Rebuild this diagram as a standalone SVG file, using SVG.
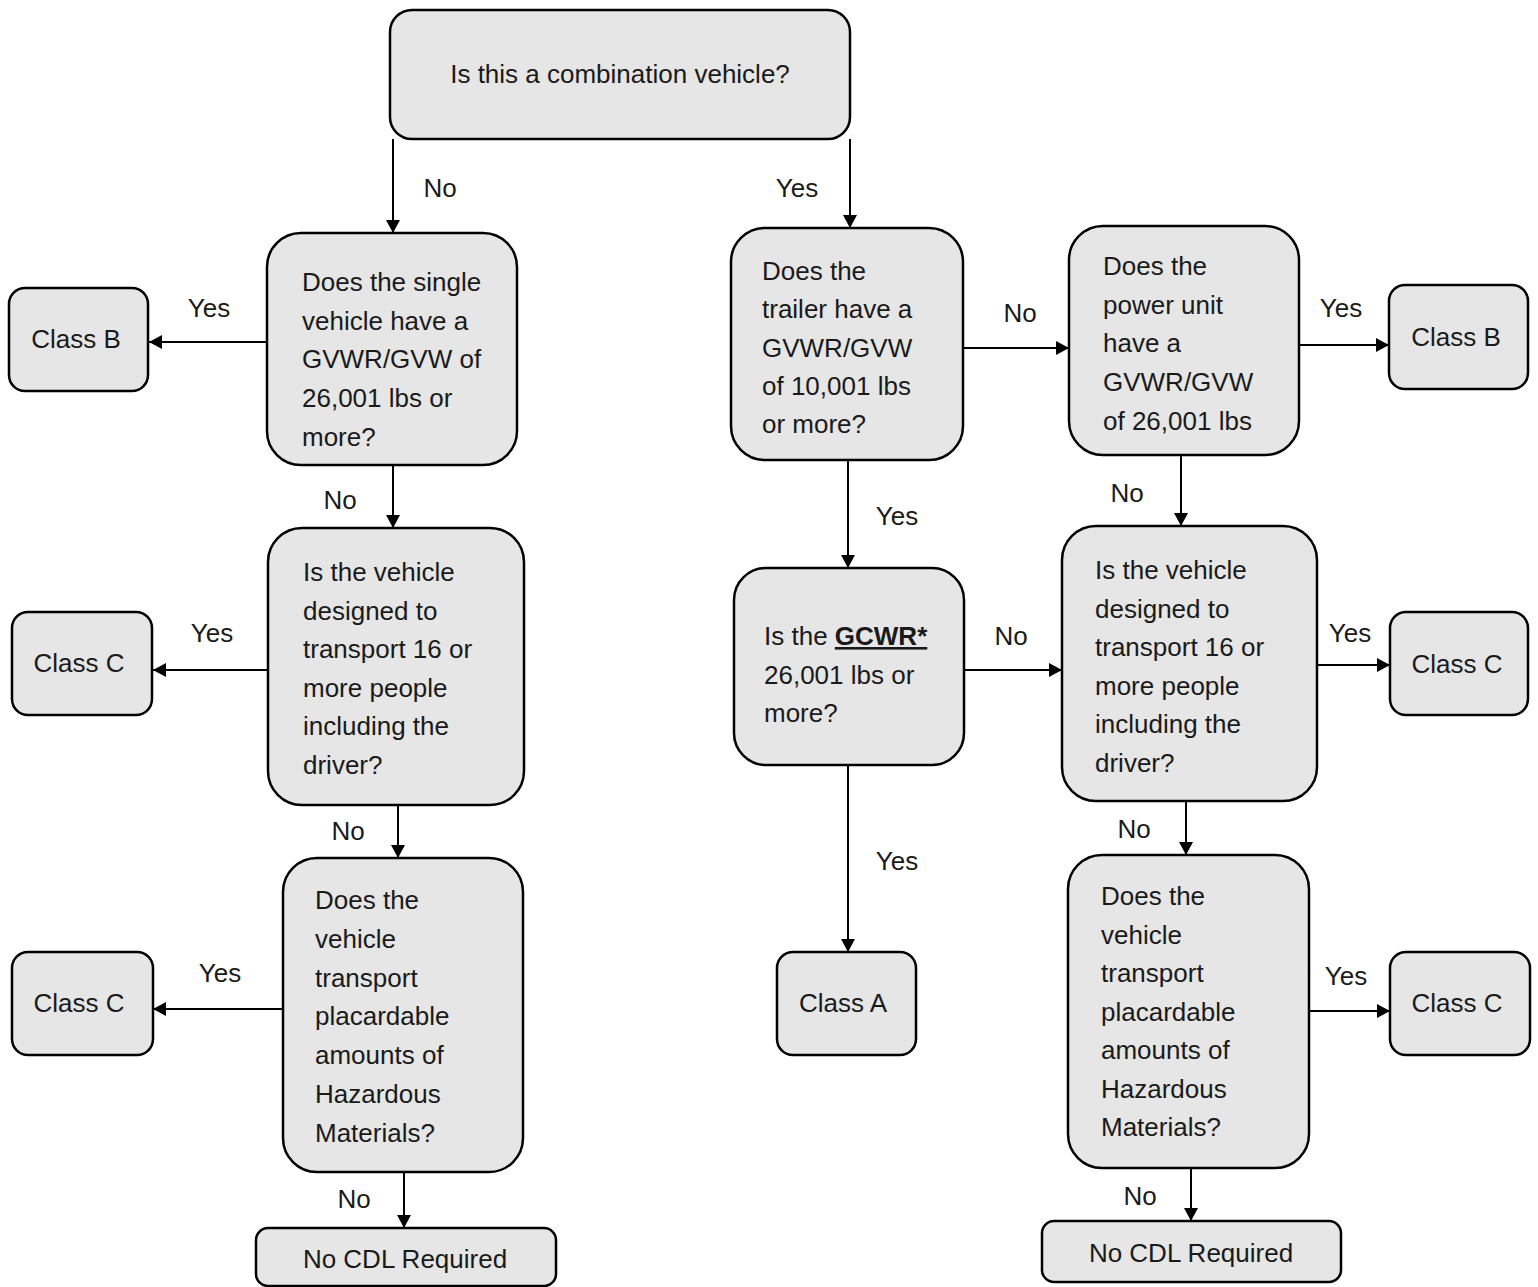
<svg xmlns="http://www.w3.org/2000/svg" width="1538" height="1287" viewBox="0 0 1538 1287">
<style>
.box{fill:#e6e6e6;stroke:#000;stroke-width:2.5}
text{font-family:"Liberation Sans",Arial,sans-serif;font-size:26px;fill:#1a1a1a}
.c{text-anchor:middle}
.conn{fill:none;stroke:#000;stroke-width:2;marker-end:url(#arr)}
.b{font-weight:bold;text-decoration:underline}
</style>
<defs>
<marker id="arr" markerUnits="userSpaceOnUse" markerWidth="14" markerHeight="14" refX="13" refY="7" orient="auto">
<path d="M0,0 L13,7 L0,14 z" fill="#000"/>
</marker>
</defs>
<rect width="1538" height="1287" fill="#fff"/>
<g id="connectors">
<path class="conn" d="M393,139 V233"/>
<path class="conn" d="M850,139 V228"/>
<path class="conn" d="M267,342 H149"/>
<path class="conn" d="M393,465 V528"/>
<path class="conn" d="M268,670 H153"/>
<path class="conn" d="M398,805 V858"/>
<path class="conn" d="M283,1009 H153"/>
<path class="conn" d="M404,1172 V1228"/>
<path class="conn" d="M963,348 H1069"/>
<path class="conn" d="M848,460 V568"/>
<path class="conn" d="M964,670 H1062"/>
<path class="conn" d="M848,765 V952"/>
<path class="conn" d="M1300,345 H1389"/>
<path class="conn" d="M1181,455 V526"/>
<path class="conn" d="M1317,665 H1390"/>
<path class="conn" d="M1186,801 V855"/>
<path class="conn" d="M1309,1011 H1390"/>
<path class="conn" d="M1191,1168 V1221"/>
<text class="c" x="440" y="197">No</text>
<text class="c" x="797" y="197">Yes</text>
<text class="c" x="209" y="317">Yes</text>
<text class="c" x="340" y="509">No</text>
<text class="c" x="212" y="642">Yes</text>
<text class="c" x="348" y="840">No</text>
<text class="c" x="220" y="982">Yes</text>
<text class="c" x="354" y="1208">No</text>
<text class="c" x="1020" y="322">No</text>
<text class="c" x="897" y="525">Yes</text>
<text class="c" x="1011" y="645">No</text>
<text class="c" x="897" y="870">Yes</text>
<text class="c" x="1341" y="317">Yes</text>
<text class="c" x="1127" y="502">No</text>
<text class="c" x="1350" y="642">Yes</text>
<text class="c" x="1134" y="838">No</text>
<text class="c" x="1346" y="985">Yes</text>
<text class="c" x="1140" y="1205">No</text>
</g>
<g id="n-top">
<rect class="box" x="390" y="10" width="460" height="129" rx="22"/>
<text class="c" x="620" y="83">Is this a combination vehicle?</text>
</g>
<g id="n-l1">
<rect class="box" x="267" y="233" width="250" height="232" rx="34"/>
<text x="302" y="291">Does the single<tspan x="302" dy="38.7">vehicle have a</tspan><tspan x="302" dy="38.7">GVWR/GVW of</tspan><tspan x="302" dy="38.7">26,001 lbs or</tspan><tspan x="302" dy="38.7">more?</tspan></text>
</g>
<g id="n-l1b">
<rect class="box" x="9" y="288" width="139" height="103" rx="16"/>
<text class="c" x="76" y="348">Class B</text>
</g>
<g id="n-l2">
<rect class="box" x="268" y="528" width="256" height="277" rx="34"/>
<text x="303" y="581">Is the vehicle<tspan x="303" dy="38.6">designed to</tspan><tspan x="303" dy="38.6">transport 16 or</tspan><tspan x="303" dy="38.6">more people</tspan><tspan x="303" dy="38.6">including the</tspan><tspan x="303" dy="38.6">driver?</tspan></text>
</g>
<g id="n-l2c">
<rect class="box" x="12" y="612" width="140" height="103" rx="16"/>
<text class="c" x="79" y="672">Class C</text>
</g>
<g id="n-l3">
<rect class="box" x="283" y="858" width="240" height="314" rx="34"/>
<text x="315" y="909">Does the<tspan x="315" dy="38.8">vehicle</tspan><tspan x="315" dy="38.8">transport</tspan><tspan x="315" dy="38.8">placardable</tspan><tspan x="315" dy="38.8">amounts of</tspan><tspan x="315" dy="38.8">Hazardous</tspan><tspan x="315" dy="38.8">Materials?</tspan></text>
</g>
<g id="n-l3c">
<rect class="box" x="12" y="952" width="141" height="103" rx="16"/>
<text class="c" x="79" y="1012">Class C</text>
</g>
<g id="n-lnocdl">
<rect class="box" x="256" y="1228" width="300" height="58" rx="12"/>
<text class="c" x="405" y="1268">No CDL Required</text>
</g>
<g id="n-m1">
<rect class="box" x="731" y="228" width="232" height="232" rx="34"/>
<text x="762" y="280">Does the<tspan x="762" dy="38.3">trailer have a</tspan><tspan x="762" dy="38.3">GVWR/GVW</tspan><tspan x="762" dy="38.3">of 10,001 lbs</tspan><tspan x="762" dy="38.3">or more?</tspan></text>
</g>
<g id="n-m2">
<rect class="box" x="734" y="568" width="230" height="197" rx="32"/>
<text x="764" y="645">Is the <tspan class="b">GCWR*</tspan><tspan x="764" dy="38.6">26,001 lbs or</tspan><tspan x="764" dy="38.6">more?</tspan></text>
</g>
<g id="n-ma">
<rect class="box" x="777" y="952" width="139" height="103" rx="16"/>
<text class="c" x="843" y="1012">Class A</text>
</g>
<g id="n-r1">
<rect class="box" x="1069" y="226" width="230" height="229" rx="34"/>
<text x="1103" y="275">Does the<tspan x="1103" dy="38.7">power unit</tspan><tspan x="1103" dy="38.7">have a</tspan><tspan x="1103" dy="38.7">GVWR/GVW</tspan><tspan x="1103" dy="38.7">of 26,001 lbs</tspan></text>
</g>
<g id="n-r1b">
<rect class="box" x="1389" y="285" width="139" height="104" rx="16"/>
<text class="c" x="1456" y="346">Class B</text>
</g>
<g id="n-r2">
<rect class="box" x="1062" y="526" width="255" height="275" rx="34"/>
<text x="1095" y="579">Is the vehicle<tspan x="1095" dy="38.6">designed to</tspan><tspan x="1095" dy="38.6">transport 16 or</tspan><tspan x="1095" dy="38.6">more people</tspan><tspan x="1095" dy="38.6">including the</tspan><tspan x="1095" dy="38.6">driver?</tspan></text>
</g>
<g id="n-r2c">
<rect class="box" x="1390" y="612" width="138" height="103" rx="16"/>
<text class="c" x="1457" y="673">Class C</text>
</g>
<g id="n-r3">
<rect class="box" x="1068" y="855" width="241" height="313" rx="34"/>
<text x="1101" y="905">Does the<tspan x="1101" dy="38.5">vehicle</tspan><tspan x="1101" dy="38.5">transport</tspan><tspan x="1101" dy="38.5">placardable</tspan><tspan x="1101" dy="38.5">amounts of</tspan><tspan x="1101" dy="38.5">Hazardous</tspan><tspan x="1101" dy="38.5">Materials?</tspan></text>
</g>
<g id="n-r3c">
<rect class="box" x="1390" y="952" width="140" height="103" rx="16"/>
<text class="c" x="1457" y="1012">Class C</text>
</g>
<g id="n-rnocdl">
<rect class="box" x="1042" y="1221" width="299" height="61" rx="12"/>
<text class="c" x="1191" y="1262">No CDL Required</text>
</g>
</svg>
